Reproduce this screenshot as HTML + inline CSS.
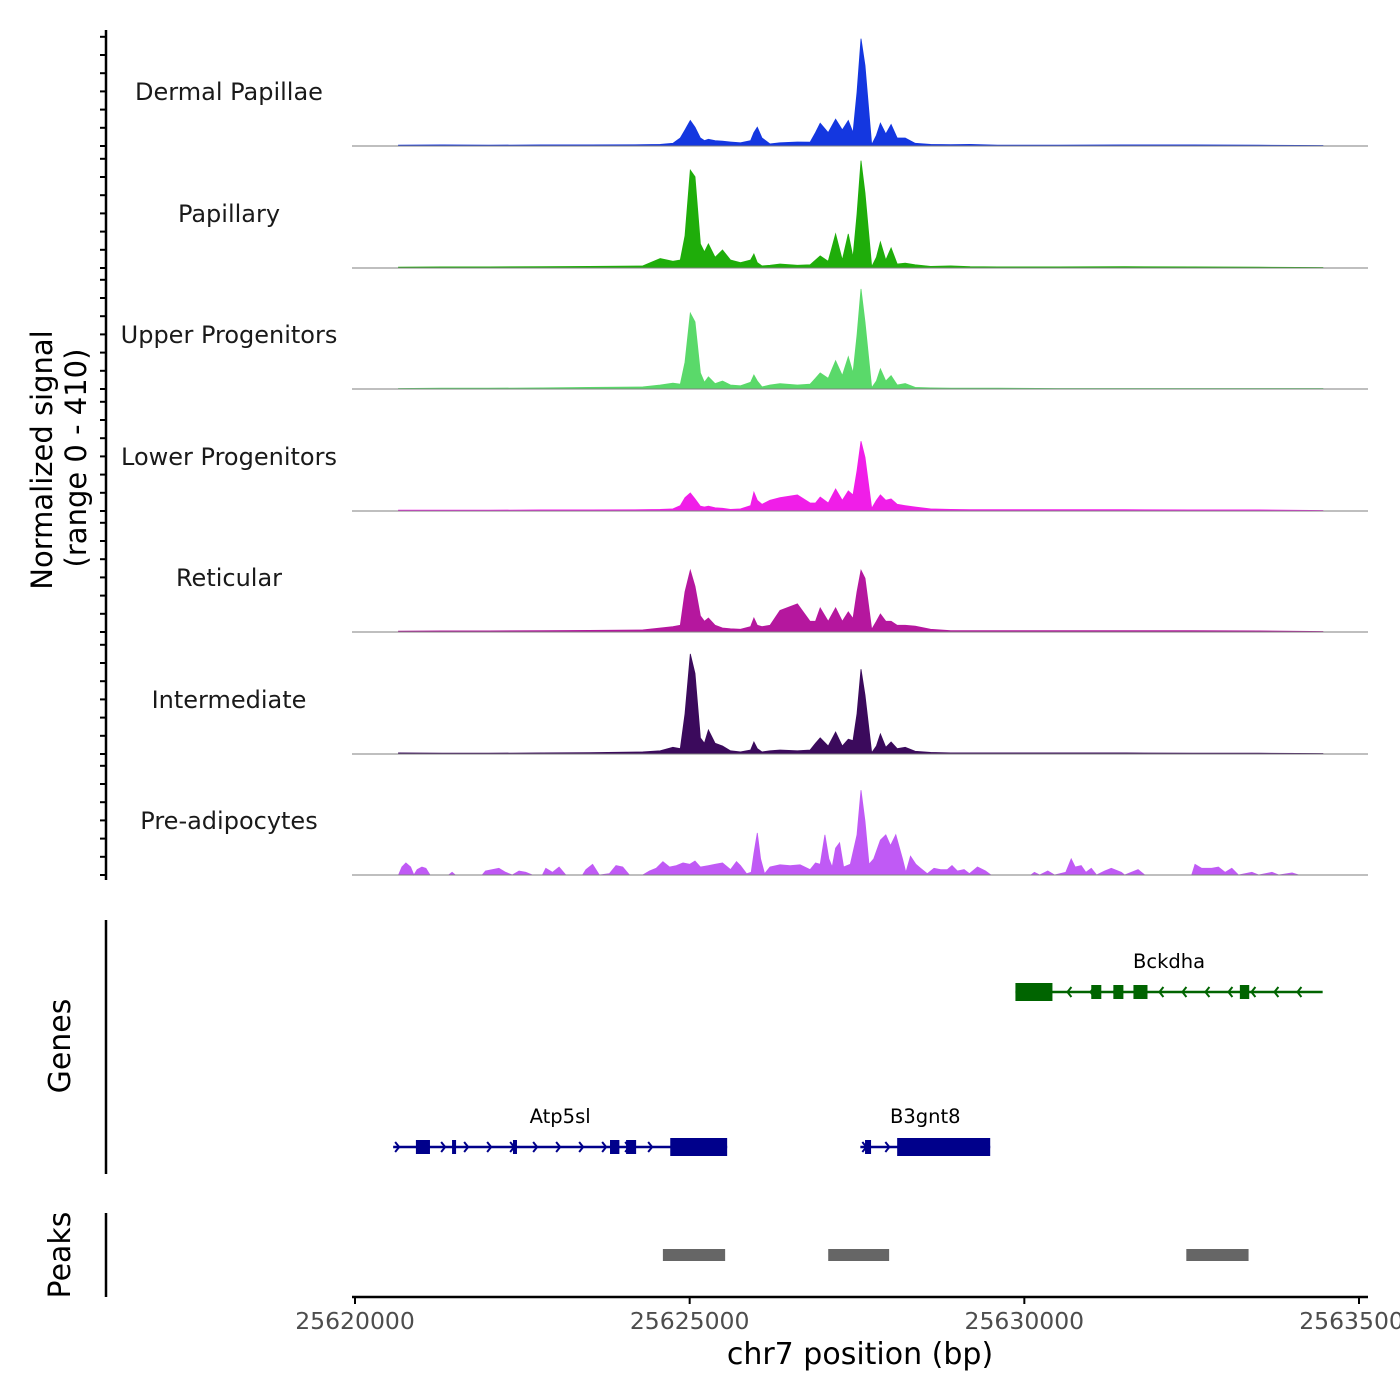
<!DOCTYPE html>
<html><head><meta charset="utf-8"><style>
html,body{margin:0;padding:0;background:#fff}
svg{display:block;font-family:"DejaVu Sans","Liberation Sans",sans-serif}
</style></head><body>
<svg id="chart" width="1400" height="1400" viewBox="0 0 1400 1400" xmlns="http://www.w3.org/2000/svg">
<g id="tracks"></g>
<g id="genes"></g>
<g id="peaks"></g>
<g id="axes"></g>
<text transform="translate(52,460) rotate(-90)" text-anchor="middle" font-size="29" fill="#000">Normalized signal</text>
<text transform="translate(86,458) rotate(-90)" text-anchor="middle" font-size="29" fill="#000">(range 0 - 410)</text>
<text transform="translate(70,1046) rotate(-90)" text-anchor="middle" font-size="30" fill="#000">Genes</text>
<text transform="translate(70,1255) rotate(-90)" text-anchor="middle" font-size="30" fill="#000">Peaks</text>
<text x="860" y="1364" text-anchor="middle" font-size="30" fill="#000">chr7 position (bp)</text>
</svg>
<script>
const NS="http://www.w3.org/2000/svg";
const trackNames=["Dermal Papillae","Papillary","Upper Progenitors","Lower Progenitors","Reticular","Intermediate","Pre-adipocytes"];
const trackColors=["#1437e0","#1fad0a","#5ad96a","#f01ee8","#b5179e","#3b0a5c","#c05af5"];
const sharedPos=[25620650,25621300,25622000,25622800,25623500,25624300,25624560,25624750,25624860,25624930,25625010,25625080,25625160,25625220,25625280,25625380,25625490,25625610,25625760,25625910,25625960,25626010,25626080,25626200,25626350,25626610,25626800,25626880,25626950,25627070,25627180,25627280,25627370,25627440,25627500,25627560,25627620,25627720,25627790,25627850,25627930,25628010,25628100,25628220,25628370,25628600,25628900,25629190,25629600,25630500,25631500,25632500,25633500,25634460];
const dermalVals=[3,4,3,4,4,5,6,10,30,60,95,70,30,20,25,20,18,15,12,20,50,70,30,8,12,15,14,50,85,50,100,60,95,50,200,400,300,5,40,85,45,80,30,30,10,6,5,6,3,3,4,4,3,2];
const papillaryVals=[3,4,4,5,6,8,35,25,30,120,365,340,90,60,90,40,67,30,20,30,52,20,8,10,15,10,12,30,45,25,127,30,127,40,200,400,280,5,40,97,30,75,15,18,12,6,8,5,4,4,5,4,3,2];
const upperVals=[2,3,3,4,6,8,15,22,18,100,283,250,60,25,45,20,30,15,12,25,52,30,8,15,20,15,18,40,60,40,105,50,120,60,200,373,250,5,30,75,30,50,15,20,6,4,3,3,3,2,2,2,2,2];
const lowerVals=[3,3,3,4,4,5,6,8,20,50,67,45,18,15,18,12,10,6,8,20,70,40,25,40,50,60,30,30,52,30,82,40,75,60,150,260,200,10,40,60,40,45,25,20,15,8,6,5,5,5,5,4,4,2];
const reticularVals=[3,4,4,5,6,8,15,20,25,150,230,170,60,40,52,25,15,12,10,20,52,25,20,25,80,105,40,40,90,40,90,40,75,50,150,230,200,10,40,67,40,40,25,25,22,10,5,5,5,5,5,5,4,2];
const intermediateVals=[4,3,3,4,5,8,12,25,20,150,373,300,60,40,90,40,30,12,8,15,45,20,8,12,15,12,15,40,60,30,82,30,55,50,150,316,220,5,30,75,25,45,20,25,10,6,4,4,4,4,4,3,3,2];
const preadipPos=[25620650,25620700,25620760,25620830,25620880,25620930,25621000,25621060,25621120,25621400,25621450,25621500,25621900,25621950,25622050,25622150,25622250,25622350,25622450,25622550,25622650,25622800,25622850,25622950,25623050,25623150,25623400,25623450,25623550,25623650,25623800,25623900,25624000,25624100,25624300,25624400,25624500,25624600,25624700,25624800,25624900,25625000,25625080,25625160,25625280,25625380,25625490,25625610,25625700,25625760,25625850,25625920,25625960,25626010,25626060,25626120,25626200,25626350,25626500,25626650,25626800,25626880,25626950,25627020,25627080,25627130,25627180,25627240,25627300,25627400,25627500,25627560,25627620,25627680,25627750,25627850,25627930,25628000,25628080,25628180,25628230,25628300,25628380,25628450,25628550,25628650,25628750,25628850,25628920,25629000,25629100,25629180,25629300,25629420,25629500,25630100,25630150,25630230,25630350,25630450,25630620,25630700,25630760,25630850,25630920,25631000,25631080,25631200,25631300,25631450,25631500,25631700,25631800,25632500,25632550,25632650,25632800,25632900,25633000,25633100,25633200,25633400,25633500,25633700,25633800,25634000,25634100,25634460];
const preadipVals=[0,30,45,30,0,20,30,25,0,0,10,0,0,15,20,25,10,0,15,10,0,0,25,10,30,0,0,20,40,0,5,35,30,0,0,15,25,50,30,35,45,40,52,30,35,40,45,20,50,35,5,10,80,157,60,5,30,38,35,38,20,45,40,150,60,30,100,120,30,40,150,316,200,40,60,130,150,110,150,60,10,70,40,25,5,25,20,20,35,15,20,5,30,15,0,0,10,0,15,0,10,60,30,35,10,25,0,15,25,10,0,20,0,0,40,25,25,30,10,25,0,10,0,10,0,8,0,0];
const xTicks=[25620000,25625000,25630000,25635000];
const xTickLabels=["25620000","25625000","25630000","25635000"];
const geneNames=["Atp5sl","B3gnt8","Bckdha"];
const geneStarts=[25620570,25627550,25629867];
const geneEnds=[25625560,25629490,25634457];
const geneStrands=[1,1,-1];
const geneRows=[1,1,0];
const exonGene=[0,0,0,0,0,0,1,1,2,2,2,2,2];
const exonStarts=[25620910,25621450,25622360,25623810,25624050,25624710,25627620,25628100,25629867,25631000,25631330,25631630,25633220];
const exonEnds=[25621120,25621510,25622420,25623950,25624200,25625560,25627710,25629490,25630420,25631150,25631480,25631840,25633360];
const exonBig=[0,0,0,0,0,1,0,1,1,0,0,0,0];
const peakStarts=[25624600,25627070,25632420];
const peakEnds=[25625530,25627980,25633350];

const X0=355,X1=1359,B0=25620000,B1=25635000;
function xs(bp){return X0+(bp-B0)*(X1-X0)/(B1-B0);}
const baselines=[146,268,389,511,632,754,875];
const YMAX=410,HPX=110;
function ys(v,b){return b-v*HPX/YMAX;}
function el(tag,attrs,parent){const e=document.createElementNS(NS,tag);for(const k in attrs)e.setAttribute(k,attrs[k]);parent.appendChild(e);return e;}
const tracksG=document.getElementById('tracks');
const seriesPos=[sharedPos,sharedPos,sharedPos,sharedPos,sharedPos,sharedPos,preadipPos];
const seriesVals=[dermalVals,papillaryVals,upperVals,lowerVals,reticularVals,intermediateVals,preadipVals];
for(let t=0;t<7;t++){
  const b=baselines[t],P=seriesPos[t],V=seriesVals[t];
  let d="M"+xs(P[0]).toFixed(1)+","+b;
  for(let i=0;i<P.length;i++)d+=" L"+xs(P[i]).toFixed(1)+","+ys(V[i],b).toFixed(1);
  d+=" L"+xs(P[P.length-1]).toFixed(1)+","+b+" Z";
  const a=el('path',{d:d,fill:trackColors[t],stroke:trackColors[t],'stroke-width':0.8},tracksG);
  
  
  const ln=el('line',{x1:352,x2:1368,y1:b,y2:b,stroke:'#7f7f7f','stroke-width':1},tracksG);
  
  
  const lb=el('text',{x:229,y:b-46,'text-anchor':'middle','font-size':24,fill:'#1a1a1a'},tracksG);
  lb.textContent=trackNames[t];
  
  
}
const axes=document.getElementById('axes');
el('line',{x1:106,x2:106,y1:30,y2:880,stroke:'#000','stroke-width':2.5},axes);
for(let t=0;t<7;t++){for(let k=0;k<7;k++){const y=baselines[t]-k*18.2;el('line',{x1:100,x2:106,y1:y,y2:y,stroke:'#000','stroke-width':2},axes);}}
el('line',{x1:106,x2:106,y1:920,y2:1174,stroke:'#000','stroke-width':2.5},axes);
el('line',{x1:106,x2:106,y1:1213,y2:1297,stroke:'#000','stroke-width':2.5},axes);
el('line',{x1:352,x2:1368,y1:1297,y2:1297,stroke:'#000','stroke-width':2.5},axes);
for(let i=0;i<xTicks.length;i++){
  const x=xs(xTicks[i]);
  el('line',{x1:x,x2:x,y1:1297,y2:1304,stroke:'#000','stroke-width':2},axes);
  const tx=el('text',{x:x,y:1329,'text-anchor':'middle','font-size':23.5,fill:'#4d4d4d'},axes);
  tx.textContent=xTickLabels[i];
  
  
}
const genesG=document.getElementById('genes');
const rowY=[992,1147];
const geneCols=["#00008b","#00008b","#006400"];
for(let g=0;g<geneNames.length;g++){
  const y=rowY[geneRows[g]],c=geneCols[g],x1=xs(geneStarts[g]),x2=xs(geneEnds[g]);
  el('line',{x1:x1,x2:x2,y1:y,y2:y,stroke:c,'stroke-width':2.5},genesG);
  for(let x=x1+6;x<x2-3;x+=23){
    const s=geneStrands[g];
    el('polyline',{points:(x-4*s)+","+(y-5)+" "+x+","+y+" "+(x-4*s)+","+(y+5),fill:'none',stroke:c,'stroke-width':2},genesG);
  }
  const lb=el('text',{x:(x1+x2)/2,y:y-24,'text-anchor':'middle','font-size':19.5,fill:'#000'},genesG);
  lb.textContent=geneNames[g];
  
  
}
for(let e=0;e<exonStarts.length;e++){
  const g=exonGene[e],y=rowY[geneRows[g]],h=exonBig[e]?18:14;
  const r=el('rect',{x:xs(exonStarts[e]),y:y-h/2,width:Math.max(3,xs(exonEnds[e])-xs(exonStarts[e])),height:h,fill:geneCols[g]},genesG);
  
  
}
const peaksG=document.getElementById('peaks');
for(let p=0;p<peakStarts.length;p++){
  const r=el('rect',{x:xs(peakStarts[p]),y:1249,width:xs(peakEnds[p])-xs(peakStarts[p]),height:12,fill:'#666666'},peaksG);
  
  
}
</script>
</body></html>
